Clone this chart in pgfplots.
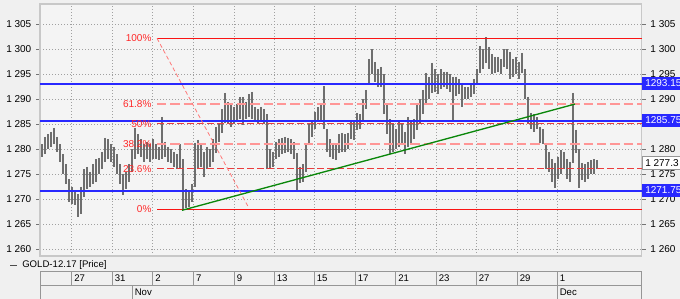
\documentclass[border=0pt]{standalone}
\usepackage{pgfplots}
\usepackage{pgfplotstable}
\pgfplotsset{compat=1.18}
\usepackage{fontspec}
\setmainfont{Liberation Sans}
\definecolor{bg}{RGB}{240,240,240}
\definecolor{plotbg}{RGB}{244,244,244}
\definecolor{gridc}{RGB}{160,160,160}
\definecolor{framec}{RGB}{200,200,200}
\definecolor{fibred}{RGB}{250,20,20}
\definecolor{fibpink}{RGB}{255,150,150}
\definecolor{fibmid}{RGB}{235,60,60}
\definecolor{fibtext}{RGB}{255,40,40}
\definecolor{lvlblue}{RGB}{40,40,255}
\definecolor{trendgreen}{RGB}{10,135,10}
\definecolor{barc}{RGB}{110,110,110}
\definecolor{sepc}{RGB}{150,150,150}

% time index (chart column), bar low, bar high
\pgfplotstableread{
x lo hi
42 1278.5 1281.0
45 1279.0 1282.5
48 1280.0 1283.0
51 1280.5 1283.5
54 1281.0 1284.3
57 1279.5 1282.5
60 1277.5 1281.0
63 1275.0 1279.0
66 1273.0 1277.0
69 1269.5 1274.0
72 1269.0 1272.5
75 1268.8 1271.5
78 1266.5 1271.0
81 1267.0 1272.5
84 1270.5 1276.0
87 1272.0 1276.5
90 1272.5 1275.5
93 1273.0 1277.0
96 1273.5 1278.0
99 1275.0 1278.3
102 1276.0 1279.5
105 1277.5 1282.3
108 1278.0 1282.0
111 1277.5 1281.0
114 1276.5 1280.5
117 1275.0 1279.0
120 1273.0 1277.0
123 1270.8 1275.0
126 1272.0 1275.5
129 1273.5 1277.0
132 1275.5 1280.0
135 1278.0 1284.3
138 1279.0 1283.0
141 1278.5 1282.0
144 1277.5 1281.0
147 1278.0 1281.5
150 1277.5 1281.0
153 1278.0 1282.0
156 1278.0 1281.0
159 1277.9 1280.5
162 1278.0 1286.5
165 1278.5 1281.5
168 1277.5 1280.5
171 1277.3 1280.0
174 1276.5 1279.5
177 1276.0 1279.0
180 1276.0 1281.0
183 1268.0 1278.0
186 1268.2 1272.0
189 1268.5 1271.8
192 1269.5 1273.0
195 1272.5 1281.3
198 1276.0 1281.9
201 1276.5 1281.0
204 1274.5 1279.5
207 1276.0 1280.5
210 1276.5 1280.0
213 1277.5 1282.0
216 1279.3 1284.5
219 1281.5 1285.0
222 1283.3 1288.0
225 1285.3 1291.3
228 1285.0 1289.5
231 1284.5 1289.3
234 1285.0 1288.5
237 1285.5 1289.0
240 1286.0 1290.5
243 1284.8 1290.5
246 1286.0 1289.5
249 1286.5 1291.0
252 1286.0 1291.5
255 1285.5 1288.5
258 1285.3 1288.0
261 1285.5 1288.5
264 1285.0 1288.0
267 1276.0 1287.0
270 1276.0 1280.0
273 1276.5 1279.5
276 1278.0 1281.5
279 1278.5 1282.0
282 1279.0 1282.3
285 1279.3 1282.5
288 1279.5 1282.3
291 1279.0 1282.0
294 1278.0 1281.5
297 1271.8 1279.3
300 1273.3 1276.5
303 1273.5 1277.0
306 1275.5 1281.0
309 1281.0 1285.3
312 1282.5 1285.5
315 1284.0 1287.5
318 1285.9 1288.5
321 1285.5 1289.0
324 1284.0 1292.6
327 1279.5 1284.0
330 1278.5 1282.0
333 1278.0 1281.3
336 1277.9 1281.0
339 1279.3 1283.0
342 1279.5 1283.3
345 1279.5 1283.0
348 1280.0 1283.3
351 1282.0 1285.9
354 1281.9 1285.5
357 1283.9 1287.3
360 1284.0 1287.0
363 1285.9 1290.0
366 1288.0 1291.9
369 1293.3 1298.0
372 1295.0 1300.0
375 1293.5 1297.5
378 1292.5 1296.0
381 1292.5 1296.5
384 1287.0 1295.0
387 1283.0 1289.0
390 1279.0 1286.0
393 1279.5 1285.0
396 1280.0 1284.0
399 1280.5 1285.5
402 1281.0 1285.0
405 1279.0 1283.5
408 1280.5 1286.5
411 1281.0 1285.5
414 1282.0 1286.0
417 1283.9 1289.3
420 1285.3 1290.0
423 1287.0 1291.9
426 1289.3 1295.3
429 1290.0 1294.5
432 1291.3 1297.3
435 1291.5 1296.0
438 1291.0 1295.0
441 1292.0 1296.0
444 1292.5 1295.5
447 1292.0 1295.5
450 1291.5 1295.0
453 1285.9 1294.5
456 1290.6 1294.5
459 1291.0 1294.0
462 1288.5 1293.3
465 1290.0 1292.5
468 1290.0 1292.5
471 1290.5 1293.0
474 1291.0 1294.0
477 1293.0 1296.0
480 1295.3 1300.6
483 1296.0 1300.0
486 1297.3 1302.4
489 1296.0 1300.5
492 1295.0 1299.0
495 1295.3 1298.5
498 1295.5 1298.5
501 1295.0 1298.0
504 1296.5 1300.0
507 1296.0 1300.0
510 1294.0 1299.5
513 1294.5 1298.0
516 1295.0 1298.5
519 1294.0 1297.5
522 1295.3 1299.3
525 1290.0 1296.0
528 1285.3 1290.5
531 1284.0 1287.3
534 1283.5 1287.0
537 1284.0 1286.5
540 1281.3 1284.5
543 1281.0 1284.0
546 1276.0 1281.3
549 1275.5 1279.5
552 1273.5 1278.0
555 1272.2 1277.3
558 1274.0 1278.5
561 1275.0 1279.9
564 1276.0 1279.5
567 1274.0 1278.0
570 1273.5 1277.5
573 1277.3 1291.3
576 1279.3 1283.9
579 1272.2 1280.0
582 1273.9 1277.3
585 1273.5 1277.0
588 1274.0 1277.5
591 1275.0 1277.8
594 1275.0 1278.0
597 1276.0 1277.8
}\bars

\newcommand{\lblfont}{\fontsize{7.5}{9}\selectfont}

\begin{document}
\begin{tikzpicture}[x=0.75pt,y=0.75pt]
\path[fill=bg] (0,0) rectangle (680,299);
\clip (0,0) rectangle (680,299);
\begin{axis}[
  at={(30pt,32.25pt)}, anchor=south west,
  scale only axis, width=451.3pt, height=189pt,
  xmin=40, xmax=641.7, ymin=1258.66, ymax=1309.06,
  axis background/.style={fill=plotbg},
  axis line style={draw=framec, line width=1pt},
  xtick={71.5,112,152.6,193.4,234,274,314,355,395.5,436,476,517,557},
  xticklabels={},
  xtick style={draw=none},
  ytick={1260,1265,...,1305},
  yticklabels={1 260,1 265,1 270,1 275,1 280,1 285,1 290,1 295,1 300,1 305},
  ytick style={draw=black!55, line width=0.5pt},
  tick align=outside, major tick length=3pt,
  yticklabel style={font=\lblfont, text=black},
  grid=major,
  major grid style={draw=gridc, line width=0.55pt, dash pattern=on 0.75pt off 1.5pt},
  clip mode=individual,
]
% price bars (low to high)
\addplot[draw=none, mark=none, forget plot,
  error bars/.cd, y dir=minus, y explicit, error mark=none,
  error bar style={draw=barc, solid, line width=0.85pt}]
  table[x=x, y=hi, y error expr=\thisrow{hi}-\thisrow{lo}] {\bars};
% horizontal levels
\addplot[lvlblue, line width=1.5pt] coordinates {(40,1293.15) (641.7,1293.15)};
\addplot[lvlblue, line width=1.5pt] coordinates {(40,1285.75) (641.7,1285.75)};
\addplot[lvlblue, line width=1.5pt] coordinates {(40,1271.75) (641.7,1271.75)};
% fibonacci retracement
\addplot[fibred, line width=1pt] coordinates {(157,1302.2) (641.7,1302.2)};
\addplot[fibred, line width=1pt] coordinates {(157,1268.0) (641.7,1268.0)};
\addplot[fibpink, line width=1.4pt, dash pattern=on 7pt off 3pt] coordinates {(157,1289.14) (641.7,1289.14)};
\addplot[fibpink, line width=1.4pt, dash pattern=on 7pt off 3pt] coordinates {(157,1281.06) (641.7,1281.06)};
\addplot[fibmid, line width=0.8pt, dash pattern=on 5pt off 2.5pt] coordinates {(157,1285.1) (641.7,1285.1)};
\addplot[fibmid, line width=0.8pt, dash pattern=on 5pt off 2.5pt] coordinates {(157,1276.07) (641.7,1276.07)};
\addplot[fibpink!80!red, line width=0.6pt, dash pattern=on 3pt off 2pt] coordinates {(157,1302.2) (249,1268.2)};
% trend line
\addplot[trendgreen, line width=1pt] coordinates {(182,1267.8) (575,1289.05)};
% fib labels
\node[anchor=east, text=fibtext, font=\lblfont, inner sep=1pt] at (axis cs:153,1302.2) {100\%};
\node[anchor=east, text=fibtext, font=\lblfont, inner sep=1pt] at (axis cs:153,1289.14) {61.8\%};
\node[anchor=east, text=fibtext, font=\lblfont, inner sep=1pt] at (axis cs:153,1285.1) {50\%};
\node[anchor=east, text=fibtext, font=\lblfont, inner sep=1pt] at (axis cs:153,1281.06) {38.2\%};
\node[anchor=east, text=fibtext, font=\lblfont, inner sep=1pt] at (axis cs:153,1276.07) {23.6\%};
\node[anchor=east, text=fibtext, font=\lblfont, inner sep=1pt] at (axis cs:153,1268.0) {0\%};
\end{axis}
\begin{axis}[
  at={(30pt,32.25pt)}, anchor=south west,
  scale only axis, width=451.3pt, height=189pt,
  xmin=40, xmax=641.7, ymin=1258.66, ymax=1309.06,
  axis line style={draw=none},
  xtick=\empty,
  ytick={1260,1265,1270,1275,1280,1290,1295,1300,1305},
  yticklabels={1 260,1 265,1 270,1 275,1 280,1 290,1 295,1 300,1 305},
  yticklabel pos=right,
  ytick style={draw=none},
  tick align=outside, major tick length=3pt,
  yticklabel style={font=\lblfont, text=black},
]
\end{axis}
% right-side price boxes
\foreach \py/\lab in {83.55/1293.15, 120.55/1285.75, 190.55/1271.75}{
  \fill[lvlblue] (642,299-\py-6.5) rectangle (690,299-\py+6.5);
  \node[anchor=west, text=white, font=\lblfont, inner sep=0] at (645,299-\py) {\lab};
}
\filldraw[fill=white, draw=sepc, line width=0.5pt] (642,299-162.8-6.5) rectangle (690,299-162.8+6.5);
\node[anchor=west, text=black, font=\lblfont, inner sep=0] at (645,299-162.8) {1 277.3};
% legend
\draw[black!70, line width=0.7pt] (10,34) -- (17,34);
\node[anchor=west, font=\fontsize{7.2}{9}\selectfont, inner sep=0] at (22,34) {GOLD-12.17 [Price]};
% date axis
\draw[sepc, line width=0.6pt] (40,28) -- (641.7,28);
\draw[sepc, line width=0.6pt] (40,14) -- (641.7,14);
\draw[sepc, line width=0.6pt] (40,0) -- (40,28);
\draw[sepc, line width=0.6pt] (641.7,0) -- (641.7,28);
\foreach \xx/\lab in {71.5/27, 112/31, 152.6/2, 193.4/7, 234/9, 274/13, 314/15, 355/17, 395.5/21, 436/23, 476/27, 517/29, 557/1}{
  \draw[sepc, line width=0.6pt] (\xx,14) -- (\xx,28);
  \node[anchor=west, font=\fontsize{7.2}{9}\selectfont, inner sep=0] at (\xx+2.5,21) {\lab};
}
\foreach \xx/\lab in {132/Nov, 557/Dec}{
  \draw[sepc, line width=0.6pt] (\xx,0) -- (\xx,14);
  \node[anchor=west, font=\fontsize{7.2}{9}\selectfont, inner sep=0] at (\xx+2.5,7) {\lab};
}
\end{tikzpicture}
\end{document}
